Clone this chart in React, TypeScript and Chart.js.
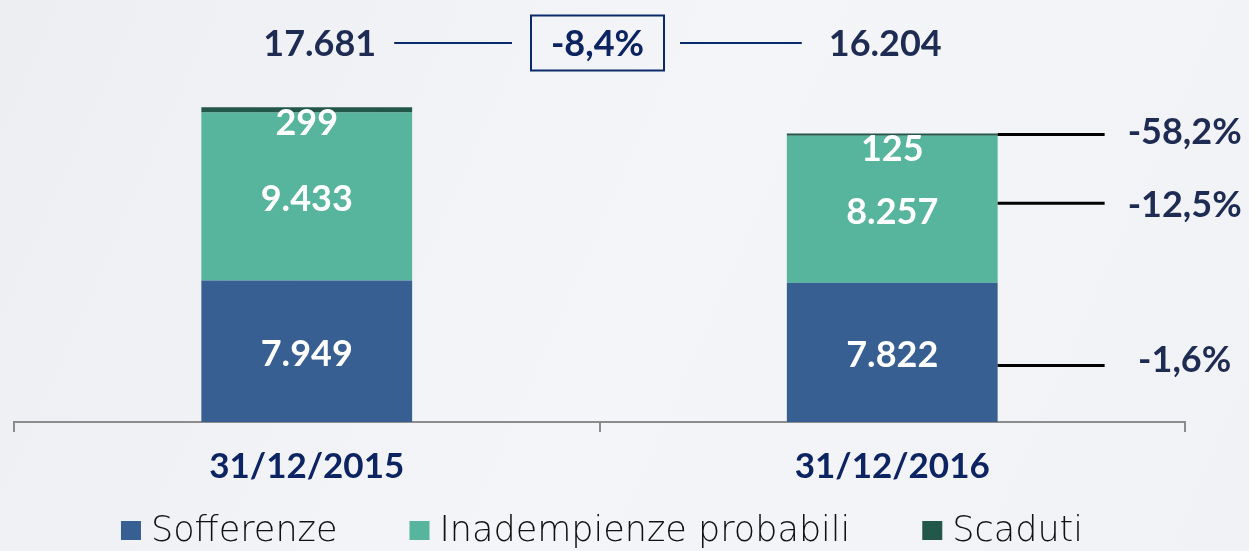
import { useEffect, useRef } from "react";
import { Chart, registerables } from "chart.js";

Chart.register(...registerables);

const categories = ["31/12/2015", "31/12/2016"];
const seriesNames = ["Sofferenze", "Inadempienze probabili", "Scaduti"];
const sofferenze = [7949, 7822];
const inadempienze = [9433, 8257];
const scaduti = [299, 125];
const totals = [17681, 16204];
const totalChange = "-8,4%";
const seriesChanges = ["-1,6%", "-12,5%", "-58,2%"];
const seriesColors = ["#375f91", "#57b59d", "#23574a"];

const NUM_FONT = "bold 36px Lato, 'Open Sans', sans-serif";
const NAVY = "#1e2b52";
const BLUE = "#0d2462";

function fmt(n: number): string {
  return String(n).replace(/\B(?=(\d{3})+(?!\d))/g, ".");
}

const annotations = {
  id: "annotations",
  beforeDraw(chart: any) {
    const { ctx, width, height } = chart;
    ctx.save();
    const g = ctx.createLinearGradient(0, 0, width, height);
    g.addColorStop(0, "#eceef2");
    g.addColorStop(0.5, "#f4f5f8");
    g.addColorStop(1, "#f1f2f5");
    ctx.fillStyle = g;
    ctx.fillRect(0, 0, width, height);
    ctx.restore();
  },
  afterDatasetsDraw(chart: any) {
    const { ctx } = chart;
    const metas = [0, 1, 2].map((i) => chart.getDatasetMeta(i));
    ctx.save();
    ctx.textAlign = "center";
    ctx.textBaseline = "middle";
    ctx.font = NUM_FONT;
    ctx.fillStyle = "#ffffff";
    const values = [sofferenze, inadempienze, scaduti];
    for (let i = 0; i < 3; i++) {
      metas[i].data.forEach((bar: any, j: number) => {
        let y;
        if (i === 2) y = bar.y + 16;
        else y = (bar.y + bar.base) / 2 + 3;
        ctx.fillText(fmt(values[i][j]), bar.x, y);
      });
    }
    // totals row
    const b0 = metas[2].data[0];
    const b1 = metas[2].data[1];
    const yTop = 44;
    ctx.fillStyle = NAVY;
    const t0x = b0.x + 13;
    const t1x = b1.x - 7;
    ctx.fillText(fmt(totals[0]), t0x, yTop);
    ctx.fillText(fmt(totals[1]), t1x, yTop);
    const w0 = ctx.measureText(fmt(totals[0])).width;
    const w1 = ctx.measureText(fmt(totals[1])).width;
    const mid = (b0.x + b1.x) / 2 - 2;
    const boxW = 133;
    const boxH = 55;
    ctx.strokeStyle = "#0b2a6b";
    ctx.lineWidth = 2;
    ctx.beginPath();
    ctx.moveTo(t0x + w0 / 2 + 18, yTop - 1);
    ctx.lineTo(mid - boxW / 2 - 19, yTop - 1);
    ctx.moveTo(mid + boxW / 2 + 16, yTop - 1);
    ctx.lineTo(t1x - w1 / 2 - 27, yTop - 1);
    ctx.stroke();
    ctx.strokeRect(mid - boxW / 2, yTop - boxH / 2 - 1, boxW, boxH);
    ctx.fillStyle = BLUE;
    ctx.fillText(totalChange, mid, yTop);
    // right side change lines
    const rightEdge = b1.x + b1.width / 2;
    const lineEnd = rightEdge + 107;
    const labelX = rightEdge + 187;
    const sof = metas[0].data[1];
    const ina = metas[1].data[1];
    const sca = metas[2].data[1];
    const lineYs = [
      (sof.y + sof.base) / 2 + 13,
      (ina.y + ina.base) / 2 - 6,
      sca.y + 1,
    ];
    const labelYs = [lineYs[0] - 5, lineYs[1] + 2, lineYs[2] - 2];
    ctx.strokeStyle = "#000000";
    ctx.lineWidth = 3;
    for (let k = 0; k < 3; k++) {
      ctx.beginPath();
      ctx.moveTo(rightEdge, lineYs[k]);
      ctx.lineTo(lineEnd, lineYs[k]);
      ctx.stroke();
      ctx.fillStyle = NAVY;
      ctx.fillText(seriesChanges[k], labelX, labelYs[k]);
    }
    // legend
    ctx.font = "200 35px 'DejaVu Sans', Lato, sans-serif";
    ctx.textAlign = "left";
    const box = 20;
    const gapBoxText = 10;
    const gapItems = 72;
    const widths = seriesNames.map((s) => ctx.measureText(s).width);
    let total = 0;
    widths.forEach((w, i) => {
      total += box + gapBoxText + w + (i < widths.length - 1 ? gapItems : 0);
    });
    let x = 602 - total / 2;
    const ly = 531;
    seriesNames.forEach((s, i) => {
      ctx.fillStyle = seriesColors[i];
      ctx.fillRect(x, ly - box / 2, box, box - 1);
      ctx.fillStyle = "#111111";
      ctx.fillText(s, x + box + gapBoxText, ly + 1);
      x += box + gapBoxText + widths[i] + gapItems;
    });
    ctx.restore();
  },
};

export default function App() {
  const ref = useRef<HTMLCanvasElement | null>(null);
  useEffect(() => {
    if (!ref.current) return;
    const chart = new Chart(ref.current, {
      type: "bar",
      data: {
        labels: categories,
        datasets: [
          { label: seriesNames[0], data: sofferenze, backgroundColor: seriesColors[0] },
          { label: seriesNames[1], data: inadempienze, backgroundColor: seriesColors[1] },
          { label: seriesNames[2], data: scaduti, backgroundColor: seriesColors[2] },
        ],
      },
      options: {
        responsive: false,
        animation: false,
        devicePixelRatio: 1,
        layout: { padding: { left: 14, right: 64, top: 66, bottom: 0 } },
        datasets: { bar: { categoryPercentage: 0.36, barPercentage: 1 } },
        plugins: { legend: { display: false }, tooltip: { enabled: false } },
        scales: {
          x: {
            stacked: true,
            grid: {
              offset: true,
              drawOnChartArea: false,
              drawTicks: true,
              tickLength: 10,
              color: "#8c8c8c",
              lineWidth: 2,
            },
            border: { display: true, color: "#8c8c8c", width: 2 },
            ticks: {
              color: BLUE,
              font: { family: "Lato, 'Open Sans', sans-serif", size: 35, weight: "bold" },
              padding: 14,
            },
            afterFit: (scale: any) => {
              scale.height = 129;
            },
          },
          y: {
            stacked: true,
            display: false,
            min: 0,
            max: 20000,
          },
        },
      },
      plugins: [annotations],
    } as any);
    return () => chart.destroy();
  }, []);
  return (
    <div style={{ position: "fixed", left: 0, top: 0, width: 1249, height: 551 }}>
      <canvas ref={ref} width={1249} height={551} />
    </div>
  );
}
